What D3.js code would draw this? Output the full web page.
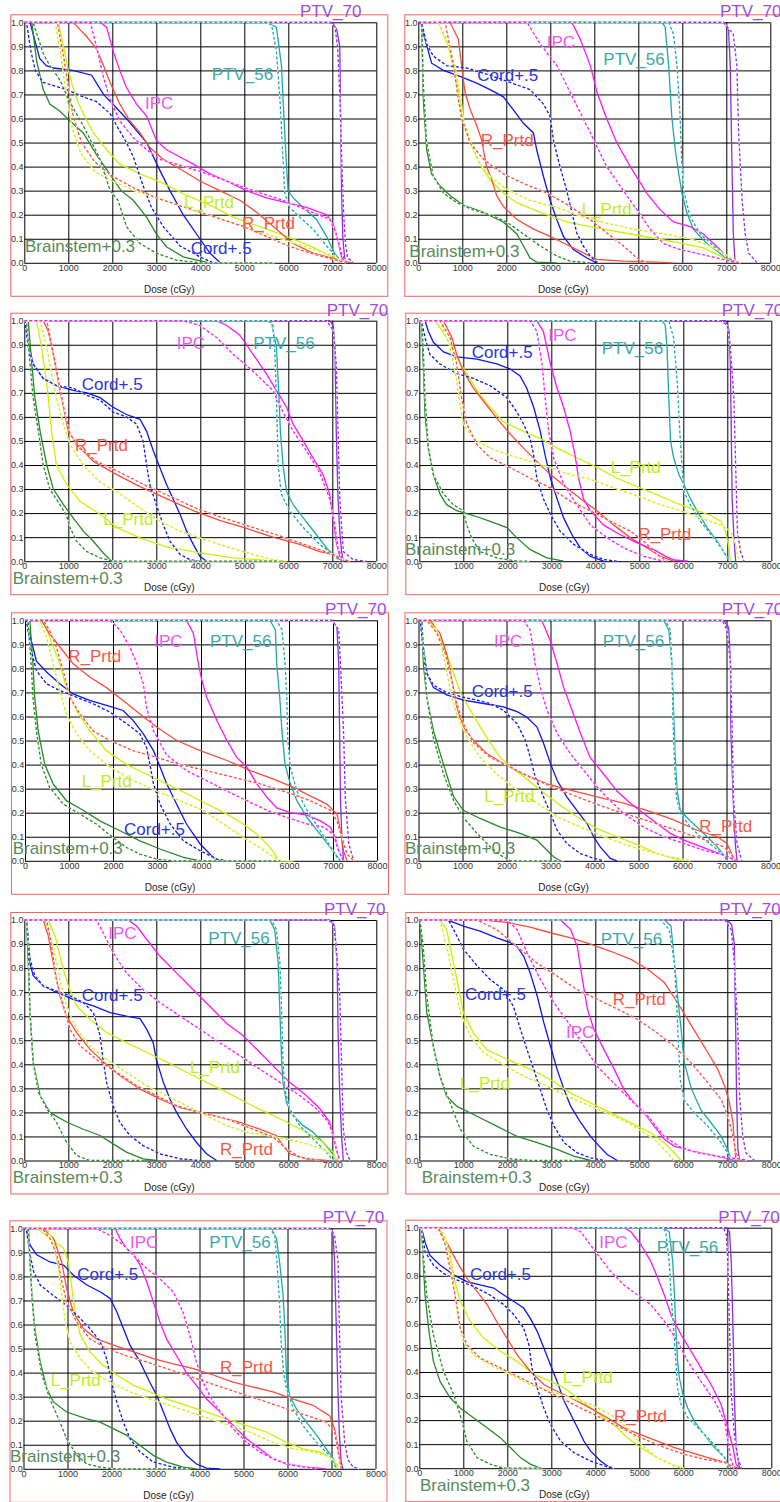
<!DOCTYPE html>
<html>
<head>
<meta charset="utf-8">
<script src="https://cdn.jsdelivr.net/npm/d3@7"></script>
<style>
  body { margin: 0; background: #fff; }
</style>
</head>
<body>
<div id="chart"></div>
<script>
// structures, in drawing order of the legend text
const structures = ["PTV_70", "PTV_56", "IPC", "Cord+.5", "L_Prtd", "R_Prtd", "Brainstem+0.3"]
const xTicks = [0, 1000, 2000, 3000, 4000, 5000, 6000, 7000, 8000]
const yTicks = [0, 0.1, 0.2, 0.3, 0.4, 0.5, 0.6, 0.7, 0.8, 0.9, 1.0]

// each curve: dose,volume pairs (flat), the curve starts at (0,1)
const ptv70Solid = [
  [7000,1, 7100,.97, 7170,.9, 7190,.6, 7210,.3, 7240,.1, 7280,.02, 7320,0],
  [6940,1, 7050,.97, 7090,.82, 7130,.40, 7160,.12, 7200,0],
  [6940,1, 7020,.98, 7060,.89, 7090,.54, 7130,.26, 7170,.125, 7210,.04, 7250,0],
  [6960,1, 7040,.96, 7070,.82, 7090,.54, 7110,.26, 7150,.1, 7190,0],
  [6980,1, 7090,.97, 7130,.82, 7150,.54, 7170,.26, 7200,.097, 7240,0],
  [6940,1, 7050,.97, 7090,.82, 7100,.54, 7150,.26, 7200,.07, 7240,0],
  [6940,1, 7050,.975, 7110,.82, 7130,.545, 7170,.27, 7210,.104, 7250,0],
  [7000,1, 7100,.98, 7160,.9, 7190,.55, 7210,.27, 7240,.05, 7280,0],
  [6960,1, 7030,.986, 7070,.86, 7110,.58, 7150,.30, 7180,.14, 7220,.028, 7260,0],
  [6970,1, 7050,.983, 7090,.86, 7130,.58, 7160,.31, 7200,.086, 7280,0]
]
const ptv70Dashed = [
  [6950,1, 7060,.98, 7120,.9, 7170,.7, 7220,.4, 7260,.2, 7300,.08, 7350,.02, 7480,0],
  [6940,1, 7160,.95, 7240,.82, 7280,.54, 7360,.26, 7430,.12, 7510,.04, 7700,0],
  [6870,1, 7020,.96, 7090,.82, 7130,.54, 7170,.26, 7250,.04, 7470,.007, 7770,0],
  [6850,1, 7000,.98, 7070,.89, 7150,.68, 7190,.40, 7230,.125, 7300,.04, 7380,0],
  [6980,1, 7130,.96, 7170,.82, 7240,.54, 7280,.26, 7360,.07, 7470,0],
  [6900,1, 7010,.96, 7090,.82, 7130,.54, 7160,.26, 7240,.07, 7350,0],
  [6870,1, 7020,.99, 7090,.89, 7170,.685, 7210,.41, 7250,.13, 7320,.035, 7400,0],
  [6940,1, 7090,.96, 7160,.82, 7240,.545, 7280,.27, 7350,.10, 7430,.03, 7620,0],
  [6960,1, 7070,.97, 7150,.86, 7180,.58, 7220,.30, 7300,.11, 7370,.04, 7490,.007, 7640,0],
  [6910,1, 6980,.97, 7010,.86, 7050,.58, 7090,.31, 7160,.14, 7240,.044, 7320,0]
]
const ptv56Solid = [
  [5500,1, 5730,.98, 5845,.82, 5880,.68, 5920,.54, 5960,.40, 5995,.3, 6110,.27, 6340,.23, 6640,.18, 6870,.11, 7020,.05, 7170,.01, 7320,0],
  [5540,1, 5610,.98, 5690,.82, 5760,.61, 5840,.47, 5920,.37, 5990,.29, 6100,.21, 6250,.14, 6560,.08, 6860,.04, 7010,.014, 7170,0],
  [5500,1, 5620,.99, 5730,.89, 5790,.68, 5820,.54, 5880,.40, 5960,.29, 6110,.235, 6340,.18, 6640,.11, 6870,.055, 7020,.028, 7170,.007, 7250,0],
  [5520,1, 5590,.98, 5630,.89, 5670,.68, 5710,.50, 5780,.43, 5900,.36, 6010,.32, 6160,.26, 6310,.21, 6540,.14, 6770,.083, 6920,.04, 7000,.014, 7070,0],
  [5570,1, 5690,.96, 5720,.82, 5790,.68, 5840,.54, 5910,.40, 6030,.32, 6180,.25, 6410,.18, 6710,.11, 6940,.055, 7090,.02, 7170,0],
  [5570,1, 5690,.96, 5760,.82, 5800,.61, 5840,.40, 5880,.29, 5950,.21, 6100,.18, 6330,.14, 6560,.10, 6790,.058, 6940,.024, 7010,0],
  [5580,1, 5690,.96, 5770,.82, 5810,.61, 5850,.41, 5880,.325, 5960,.24, 6110,.187, 6340,.145, 6560,.118, 6790,.076, 6980,.035, 7090,0],
  [5570,1, 5720,.975, 5800,.82, 5870,.684, 5950,.545, 6020,.41, 6180,.30, 6400,.21, 6630,.157, 6860,.10, 7010,.046, 7090,0],
  [5630,1, 5750,.958, 5820,.86, 5900,.72, 5940,.58, 5980,.375, 6050,.305, 6200,.25, 6430,.194, 6660,.14, 6880,.083, 7050,.04, 7110,0],
  [5530,1, 5680,.983, 5760,.86, 5800,.72, 5830,.58, 5870,.445, 5910,.376, 5990,.307, 6100,.25, 6250,.196, 6480,.14, 6710,.086, 6940,.044, 7010,.017, 7090,0]
]
const ptv56Dashed = [
  [5500,1, 5620,.99, 5730,.88, 5810,.68, 5880,.43, 5920,.29, 6030,.23, 6260,.19, 6560,.14, 6870,.07, 7100,.025, 7320,0],
  [5690,1, 5800,.95, 5880,.82, 5950,.61, 5990,.40, 6030,.3, 6180,.19, 6410,.12, 6710,.07, 7010,.03, 7170,0],
  [5580,1, 5650,.98, 5690,.89, 5730,.68, 5770,.40, 5840,.28, 6030,.21, 6340,.14, 6710,.07, 7020,.028, 7170,0],
  [5670,1, 5780,.93, 5860,.75, 5920,.54, 5970,.40, 6010,.29, 6160,.235, 6390,.166, 6690,.097, 6920,.04, 7000,.014, 7070,0],
  [5720,1, 5840,.96, 5910,.82, 5950,.68, 5970,.51, 6030,.39, 6180,.29, 6410,.21, 6710,.125, 7010,.04, 7090,.014, 7170,0],
  [5610,1, 5720,.96, 5760,.82, 5780,.61, 5820,.40, 5860,.266, 5950,.197, 6180,.14, 6410,.10, 6710,.058, 6940,.024, 7010,0],
  [5620,1, 5730,.96, 5810,.82, 5850,.61, 5880,.41, 5920,.297, 6030,.215, 6260,.145, 6560,.09, 6870,.035, 7020,0],
  [5490,1, 5680,.96, 5800,.82, 5860,.61, 5890,.475, 5930,.337, 6020,.25, 6250,.198, 6560,.143, 6860,.074, 7010,.032, 7090,0],
  [5600,1, 5710,.97, 5760,.86, 5810,.72, 5860,.514, 5910,.40, 5980,.333, 6130,.25, 6350,.18, 6660,.11, 6960,.055, 7110,0],
  [5530,1, 5600,.983, 5680,.86, 5720,.72, 5780,.58, 5830,.445, 5870,.334, 5950,.265, 6100,.21, 6330,.168, 6630,.113, 6940,.044, 7010,0]
]
const ipcSolid = [
  [1720,1, 1870,.98, 2020,.88, 2170,.8, 2320,.73, 2550,.66, 2780,.61, 3000,.51, 3230,.47, 3540,.44, 3840,.41, 4220,.37, 4600,.34, 5050,.3, 5500,.27, 5960,.25, 6410,.23, 6870,.2, 7020,.16, 7130,.09, 7210,.025, 7290,0],
  [3490,1, 3680,.93, 3910,.82, 4060,.71, 4280,.6, 4510,.5, 4820,.4, 5190,.29, 5500,.22, 5800,.17, 6180,.15, 6480,.12, 6710,.08, 6940,.04, 7090,.014, 7240,0],
  [4370,1, 4600,.98, 4900,.94, 5200,.86, 5500,.78, 5730,.71, 5960,.64, 6110,.57, 6340,.50, 6560,.43, 6790,.36, 6940,.28, 7020,.18, 7090,.08, 7170,.02, 7250,0],
  [2670,1, 2820,.956, 2980,.82, 3130,.72, 3280,.64, 3430,.54, 3540,.44, 3620,.345, 3730,.26, 3890,.21, 4190,.15, 4570,.11, 4950,.076, 5330,.048, 5600,.02, 5800,.005, 6100,0],
  [3670,1, 3830,.944, 3940,.82, 4020,.75, 4130,.68, 4360,.583, 4590,.50, 4810,.43, 5040,.39, 5270,.32, 5500,.264, 5720,.22, 6030,.2, 6410,.19, 6710,.166, 6940,.14, 7050,.097, 7130,.04, 7240,0],
  [2800,1, 2990,.917, 3150,.82, 3300,.72, 3490,.626, 3680,.53, 3900,.43, 4210,.36, 4510,.29, 4810,.24, 5120,.197, 5420,.155, 5720,.114, 6030,.086, 6330,.065, 6630,.044, 6940,.024, 7160,.005, 7240,0],
  [2360,1, 2550,.975, 2780,.92, 3080,.85, 3460,.78, 3840,.71, 4220,.64, 4600,.57, 4970,.52, 5350,.45, 5730,.38, 6030,.325, 6410,.27, 6720,.215, 6940,.16, 7020,.104, 7090,.048, 7170,0],
  [3210,1, 3440,.96, 3590,.89, 3710,.75, 3820,.63, 3970,.545, 4200,.46, 4430,.38, 4650,.295, 4880,.24, 5110,.198, 5340,.143, 5570,.088, 5790,.06, 6180,.04, 6560,.025, 6940,.011, 7160,0],
  [2080,1, 2190,.958, 2340,.917, 2500,.89, 2650,.847, 2800,.778, 2950,.694, 3100,.61, 3250,.54, 3480,.47, 3700,.40, 3930,.347, 4160,.29, 4390,.25, 4610,.208, 4840,.167, 5070,.125, 5370,.083, 5670,.042, 5970,.02, 6430,.007, 6880,0],
  [4650,1, 4810,.983, 5040,.928, 5260,.86, 5420,.79, 5570,.72, 5720,.638, 5950,.555, 6180,.486, 6400,.417, 6630,.348, 6860,.265, 7010,.168, 7130,.086, 7200,.017, 7280,0]
]
const ipcDashed = [
  [1500,1, 1640,.9, 1800,.77, 1950,.68, 2170,.59, 2480,.52, 2780,.47, 3080,.43, 3460,.41, 3990,.38, 4600,.34, 5200,.3, 5880,.26, 6410,.22, 6950,.18, 7090,.12, 7210,.04, 7320,0],
  [2470,1, 2770,.91, 3150,.82, 3530,.68, 3910,.54, 4280,.4, 4660,.3, 4970,.22, 5270,.14, 5570,.08, 5950,.055, 6560,.03, 7090,.007, 7320,0],
  [3610,1, 3990,.98, 4370,.93, 4750,.86, 5200,.79, 5650,.71, 5880,.62, 6110,.54, 6410,.46, 6710,.37, 6940,.26, 7060,.15, 7130,.055, 7250,0],
  [2520,1, 2670,.956, 2790,.82, 2860,.68, 2940,.54, 3050,.43, 3280,.32, 3580,.235, 3890,.15, 4270,.097, 4650,.055, 5100,.02, 5560,0],
  [1930,1, 2160,.96, 2380,.89, 2540,.82, 2690,.736, 2760,.64, 2920,.54, 3220,.44, 3670,.375, 4130,.333, 4590,.29, 5040,.25, 5500,.21, 5950,.18, 6410,.153, 6790,.14, 7010,.11, 7130,.04, 7240,0],
  [2390,1, 2540,.96, 2650,.82, 2770,.72, 2920,.626, 3150,.53, 3450,.446, 3750,.377, 4060,.307, 4360,.25, 4660,.197, 5120,.14, 5570,.10, 6030,.072, 6480,.044, 6940,.024, 7240,0],
  [1640,1, 1790,.947, 2020,.864, 2320,.78, 2700,.71, 3080,.657, 3540,.60, 3990,.546, 4440,.49, 4900,.436, 5350,.38, 5810,.325, 6260,.27, 6640,.215, 6910,.16, 7020,.104, 7090,.048, 7170,0],
  [1990,1, 2220,.96, 2450,.864, 2750,.753, 3060,.656, 3440,.56, 3740,.475, 4050,.39, 4430,.32, 4810,.25, 5190,.185, 5570,.10, 5950,.053, 6330,.032, 6780,.018, 7240,.007, 7470,0],
  [1660,1, 1970,.97, 2270,.93, 2570,.875, 2800,.833, 3100,.79, 3400,.736, 3630,.65, 3780,.556, 3930,.444, 4080,.36, 4310,.278, 4540,.222, 4760,.167, 5070,.11, 5370,.07, 5750,.035, 6130,.014, 6650,0],
  [3480,1, 3670,.983, 3890,.928, 4120,.873, 4350,.818, 4650,.762, 4960,.72, 5260,.68, 5570,.61, 5870,.528, 6100,.445, 6400,.362, 6710,.28, 6940,.196, 7010,.113, 7090,.03, 7160,0]
]
const cordSolid = [
  [130,1, 350,.85, 500,.82, 660,.81, 1100,.80, 1530,.78, 1800,.7, 2320,.6, 2780,.5, 3040,.4, 3310,.3, 3610,.2, 3990,.1, 4220,.04, 4450,0],
  [60,1, 114,.954, 303,.83, 569,.80, 948,.775, 1327,.747, 1630,.72, 1933,.69, 2161,.636, 2388,.58, 2616,.54, 2691,.47, 2843,.36, 2995,.26, 3146,.18, 3298,.11, 3525,.055, 3829,.02, 4056,0],
  [15,1, 90,.91, 200,.82, 430,.76, 730,.73, 1110,.71, 1420,.70, 1720,.68, 2020,.64, 2320,.61, 2630,.59, 2780,.54, 2930,.46, 3080,.39, 3230,.32, 3380,.26, 3540,.195, 3690,.125, 3840,.07, 3990,.02, 4140,0],
  [130,1, 205,.956, 320,.91, 550,.87, 850,.85, 1310,.84, 1760,.82, 2060,.80, 2290,.77, 2440,.72, 2600,.64, 2750,.54, 2860,.44, 2980,.345, 3130,.26, 3280,.18, 3470,.11, 3660,.055, 3890,.02, 4190,0],
  [30,1, 140,.917, 260,.83, 490,.785, 790,.736, 1090,.694, 1470,.667, 1850,.646, 2230,.625, 2460,.583, 2690,.528, 2920,.458, 3070,.39, 3220,.32, 3370,.264, 3520,.208, 3670,.153, 3830,.11, 3980,.07, 4130,.042, 4280,.014, 4430,0],
  [40,1, 110,.89, 190,.78, 340,.72, 640,.69, 1020,.668, 1480,.654, 1930,.64, 2240,.62, 2460,.598, 2690,.557, 2840,.49, 3000,.404, 3150,.335, 3370,.266, 3600,.21, 3830,.155, 3980,.10, 4130,.058, 4360,.01, 4510,0],
  [50,1, 130,.82, 200,.77, 430,.726, 730,.70, 1110,.67, 1570,.643, 1950,.615, 2320,.60, 2630,.59, 2780,.546, 2930,.49, 3000,.42, 3160,.325, 3310,.256, 3460,.20, 3690,.13, 3910,.076, 4140,.028, 4370,0],
  [620,1, 780,.99, 1000,.975, 1380,.954, 1760,.926, 2070,.906, 2220,.89, 2370,.85, 2520,.78, 2680,.684, 2830,.573, 2980,.476, 3130,.38, 3290,.295, 3440,.226, 3670,.157, 3890,.10, 4050,.067, 4270,.025, 4500,0],
  [60,1, 150,.93, 300,.89, 600,.86, 910,.847, 1130,.806, 1440,.764, 1740,.736, 1970,.708, 2120,.653, 2270,.583, 2420,.514, 2650,.444, 2870,.36, 3030,.305, 3180,.236, 3330,.167, 3480,.11, 3700,.056, 3930,.02, 4160,.003, 4460,0],
  [50,1, 130,.94, 240,.886, 470,.845, 780,.804, 1080,.776, 1380,.762, 1690,.749, 1920,.72, 2150,.693, 2370,.666, 2520,.624, 2680,.569, 2830,.50, 2980,.43, 3130,.362, 3290,.28, 3440,.224, 3590,.17, 3740,.113, 3890,.072, 4120,.03, 4350,0]
]
const cordDashed = [
  [50,1, 150,.88, 250,.8, 430,.75, 960,.72, 1340,.69, 1640,.67, 1950,.62, 2100,.57, 2320,.5, 2480,.44, 2700,.32, 2890,.23, 3160,.15, 3540,.07, 3990,.025, 4290,0],
  [76,1, 190,.91, 340,.86, 640,.82, 1100,.81, 1630,.78, 2085,.75, 2540,.72, 2843,.66, 2995,.61, 3070,.51, 3220,.40, 3374,.30, 3490,.21, 3600,.125, 3750,.07, 3900,.03, 4020,.007, 4090,0],
  [15,1, 90,.89, 200,.82, 430,.76, 730,.73, 1110,.72, 1420,.69, 1720,.67, 2020,.62, 2320,.6, 2550,.57, 2700,.50, 2780,.40, 2850,.32, 3000,.235, 3160,.15, 3310,.083, 3540,.028, 3760,.007, 3990,0],
  [50,1, 130,.93, 240,.86, 470,.82, 850,.78, 1230,.76, 1610,.73, 1990,.68, 2220,.62, 2370,.57, 2520,.51, 2600,.44, 2670,.345, 2820,.26, 2980,.195, 3200,.125, 3510,.07, 3890,.028, 4190,.007, 4490,0],
  [30,1, 140,.875, 260,.79, 490,.736, 790,.708, 1170,.68, 1550,.653, 1930,.618, 2310,.57, 2610,.528, 2760,.472, 2840,.40, 2920,.32, 3070,.236, 3300,.153, 3600,.083, 3980,.042, 4360,.007, 4590,0],
  [40,1, 110,.875, 190,.78, 340,.73, 640,.70, 1020,.68, 1330,.668, 1630,.654, 1930,.626, 2240,.57, 2430,.50, 2540,.43, 2650,.35, 2840,.266, 3000,.197, 3150,.127, 3370,.072, 3680,.03, 3980,.01, 4210,0],
  [50,1, 130,.837, 240,.768, 430,.726, 730,.705, 1040,.685, 1340,.657, 1570,.615, 1720,.52, 1790,.42, 1870,.325, 2020,.228, 2170,.159, 2400,.104, 2700,.062, 3080,.028, 3540,.007, 3990,0],
  [660,1, 780,.96, 1000,.88, 1310,.81, 1610,.753, 1920,.71, 2140,.64, 2300,.545, 2450,.46, 2600,.38, 2750,.295, 2900,.212, 3060,.143, 3290,.074, 3590,.032, 3890,.011, 4200,0],
  [60,1, 150,.89, 230,.82, 380,.764, 680,.72, 980,.68, 1290,.625, 1510,.583, 1740,.53, 1890,.458, 2000,.36, 2120,.278, 2270,.194, 2420,.125, 2650,.07, 2950,.028, 3400,.007, 3780,0],
  [50,1, 130,.90, 320,.845, 550,.81, 850,.783, 1230,.756, 1610,.72, 1920,.68, 2150,.638, 2370,.583, 2490,.514, 2560,.417, 2680,.334, 2830,.25, 2980,.182, 3210,.113, 3510,.065, 3890,.03, 4200,.01, 4430,0]
]
const lPrtdSolid = [
  [770,1, 890,.9, 1000,.8, 1150,.7, 1340,.62, 1570,.54, 1870,.47, 2170,.41, 2630,.37, 3160,.33, 3690,.28, 4220,.24, 4750,.19, 5350,.15, 5960,.11, 6490,.07, 6940,.03, 7250,.005, 7320,0],
  [455,1, 680,.9, 830,.79, 950,.68, 990,.61, 1175,.5, 1400,.41, 1630,.345, 1930,.29, 2240,.25, 2770,.21, 3370,.17, 3900,.15, 4660,.125, 5420,.10, 6030,.08, 6480,.062, 6790,.035, 7010,.014, 7240,0],
  [280,1, 390,.89, 470,.79, 545,.68, 620,.54, 730,.40, 960,.32, 1260,.25, 1720,.195, 2100,.14, 2630,.097, 3230,.06, 3990,.035, 4750,.014, 5500,.003, 5880,0],
  [360,1, 620,.93, 850,.845, 1080,.78, 1310,.71, 1610,.64, 1910,.58, 2370,.54, 2750,.51, 3130,.47, 3580,.43, 4040,.39, 4490,.345, 4950,.31, 5400,.277, 5860,.24, 6320,.21, 6620,.19, 6850,.166, 6960,.125, 7040,.055, 7070,0],
  [410,1, 560,.93, 790,.82, 940,.72, 1170,.625, 1470,.54, 1850,.458, 2310,.40, 2760,.36, 3220,.32, 3670,.28, 4130,.236, 4590,.194, 4960,.153, 5270,.11, 5500,.07, 5650,.035, 5760,0],
  [230,1, 490,.93, 640,.86, 800,.78, 950,.70, 1180,.626, 1400,.557, 1630,.49, 1860,.43, 2090,.39, 2390,.35, 2770,.294, 3150,.24, 3600,.183, 4060,.134, 4510,.10, 5000,.065, 5420,.03, 5800,.01, 6030,0],
  [545,1, 700,.934, 850,.82, 1000,.726, 1190,.643, 1490,.587, 1870,.532, 2320,.49, 2780,.45, 3230,.41, 3690,.367, 4140,.325, 4600,.284, 5050,.24, 5500,.20, 5960,.16, 6410,.118, 6790,.076, 7020,.035, 7090,0],
  [470,1, 620,.96, 780,.82, 930,.684, 1000,.615, 1230,.53, 1540,.46, 2000,.42, 2520,.38, 2980,.337, 3440,.28, 3890,.24, 4350,.198, 4810,.157, 5260,.115, 5570,.074, 5790,.032, 5950,0],
  [300,1, 600,.958, 910,.917, 1020,.86, 1100,.75, 1170,.653, 1290,.556, 1510,.486, 1810,.43, 2120,.39, 2500,.347, 2870,.32, 3250,.29, 3700,.264, 4160,.236, 4610,.208, 5070,.18, 5520,.153, 5970,.11, 6350,.083, 6730,.07, 6960,.049, 7070,.028, 7150,0],
  [400,1, 590,.956, 700,.886, 810,.776, 930,.693, 1160,.61, 1460,.541, 1840,.486, 2220,.445, 2600,.39, 2980,.362, 3290,.334, 3590,.293, 3890,.25, 4200,.21, 4500,.168, 4730,.127, 5030,.086, 5410,.044, 5720,.017, 5950,0]
]
const lPrtdDashed = [
  [700,1, 820,.88, 950,.7, 1100,.55, 1300,.45, 1600,.38, 2000,.34, 2500,.3, 3000,.27, 3500,.24, 4000,.21, 4500,.18, 5000,.15, 5500,.12, 6000,.09, 6500,.06, 7000,.03, 7300,0],
  [455,1, 640,.93, 830,.82, 950,.71, 1020,.6, 1175,.51, 1400,.41, 1630,.36, 2010,.305, 2540,.26, 3150,.23, 3750,.19, 4280,.165, 4890,.14, 5570,.12, 6180,.10, 6630,.07, 6940,.04, 7160,.014, 7320,0],
  [360,1, 510,.89, 620,.78, 730,.68, 890,.57, 1040,.485, 1340,.40, 1720,.33, 2170,.28, 2630,.22, 3080,.166, 3540,.125, 3990,.097, 4600,.06, 5200,.028, 5650,.007, 5960,0],
  [470,1, 700,.89, 850,.75, 930,.65, 1000,.57, 1230,.51, 1610,.47, 2060,.44, 2520,.415, 2980,.39, 3430,.36, 3890,.34, 4340,.31, 4870,.277, 5400,.24, 5940,.21, 6390,.18, 6850,.15, 7070,.125, 7190,.07, 7260,0],
  [330,1, 490,.93, 640,.82, 790,.708, 940,.61, 1170,.528, 1470,.458, 1930,.39, 2460,.333, 2990,.29, 3520,.25, 4050,.21, 4510,.153, 4960,.097, 5340,.055, 5720,.007, 5800,0, 6100,0],
  [340,1, 490,.917, 610,.82, 720,.71, 870,.61, 1100,.515, 1400,.43, 1780,.36, 2240,.294, 2690,.24, 3150,.183, 3680,.14, 4210,.10, 4740,.065, 5270,.037, 5720,.017, 6180,0],
  [470,1, 660,.89, 810,.75, 960,.643, 1190,.546, 1490,.477, 1870,.42, 2320,.367, 2780,.31, 3230,.27, 3690,.228, 4140,.187, 4600,.145, 5050,.118, 5500,.104, 5960,.09, 6410,.069, 6790,.048, 7020,.02, 7170,0],
  [470,1, 620,.89, 780,.753, 930,.615, 1160,.517, 1460,.448, 1840,.406, 2370,.35, 2900,.31, 3360,.267, 3890,.226, 4430,.184, 4880,.143, 5340,.088, 5640,.032, 5790,0],
  [530,1, 680,.944, 790,.833, 870,.72, 950,.61, 1060,.528, 1290,.458, 1590,.40, 1970,.36, 2420,.32, 2870,.29, 3330,.264, 3780,.236, 4230,.208, 4690,.18, 5140,.153, 5670,.11, 6130,.083, 6580,.07, 6960,.049, 7110,.028, 7180,0],
  [470,1, 620,.94, 740,.83, 810,.72, 890,.61, 1000,.528, 1230,.472, 1610,.43, 2070,.39, 2520,.348, 2980,.32, 3440,.293, 3890,.265, 4350,.224, 4730,.168, 5030,.10, 5410,.044, 5720,.017, 6020,0]
]
const rPrtdSolid = [
  [1110,1, 1420,.94, 1640,.89, 1800,.82, 1950,.75, 2170,.66, 2400,.59, 2630,.54, 2850,.48, 3160,.43, 3540,.39, 3990,.34, 4440,.3, 4900,.26, 5280,.21, 5730,.14, 6110,.08, 6560,.04, 7020,.018, 7320,.004, 7470,0],
  [720,1, 910,.93, 985,.82, 1060,.71, 1175,.64, 1330,.57, 1440,.51, 1550,.40, 1670,.345, 1780,.28, 1930,.235, 2240,.18, 2620,.14, 2995,.11, 3370,.076, 3750,.041, 4060,.014, 4660,.007, 5420,.003, 5800,0],
  [430,1, 545,.956, 660,.86, 770,.75, 890,.64, 1000,.54, 1190,.485, 1570,.415, 2100,.36, 2630,.31, 3230,.26, 3840,.21, 4440,.17, 5050,.136, 5650,.10, 6260,.07, 6710,.04, 7020,.028, 7250,.007, 7400,0],
  [550,1, 740,.93, 850,.86, 1000,.79, 1230,.72, 1460,.665, 1760,.595, 2060,.53, 2370,.47, 2670,.415, 2980,.36, 3350,.305, 3730,.25, 4040,.21, 4420,.15, 4800,.097, 5180,.055, 5480,.02, 5780,0],
  [370,1, 560,.944, 790,.89, 1090,.82, 1470,.764, 1850,.72, 2230,.667, 2610,.61, 2990,.556, 3450,.50, 3980,.458, 4590,.417, 5120,.375, 5650,.34, 6100,.305, 6480,.27, 6860,.236, 7090,.194, 7170,.125, 7240,.04, 7320,0],
  [265,1, 490,.945, 640,.86, 760,.75, 870,.64, 1020,.557, 1250,.50, 1550,.446, 1930,.404, 2390,.36, 2920,.32, 3450,.294, 4060,.266, 4660,.24, 5270,.204, 5800,.17, 6330,.127, 6790,.10, 7010,.072, 7130,.024, 7200,0],
  [430,1, 545,.934, 660,.82, 810,.685, 960,.60, 1190,.532, 1490,.463, 1800,.41, 2170,.353, 2630,.297, 3080,.256, 3540,.22, 3990,.20, 4440,.18, 4900,.159, 5350,.13, 5730,.104, 5880,.062, 6030,.028, 6410,.007, 6870,0],
  [1460,1, 1990,.99, 2520,.97, 2980,.947, 3440,.926, 3890,.9, 4350,.87, 4810,.836, 5190,.795, 5570,.74, 5870,.656, 6100,.587, 6330,.517, 6560,.448, 6780,.38, 6940,.31, 7050,.24, 7130,.157, 7160,.074, 7200,0],
  [450,1, 680,.958, 870,.86, 980,.75, 1130,.653, 1360,.583, 1660,.54, 2040,.514, 2500,.486, 2950,.458, 3400,.436, 3860,.417, 4310,.39, 4760,.36, 5220,.34, 5670,.32, 6130,.29, 6580,.264, 6960,.22, 7070,.167, 7150,.083, 7220,0],
  [430,1, 620,.94, 850,.86, 1080,.79, 1310,.735, 1540,.68, 1760,.61, 1990,.541, 2220,.472, 2520,.403, 2830,.348, 3130,.32, 3510,.286, 3890,.25, 4270,.21, 4650,.168, 5030,.14, 5410,.113, 5800,.086, 6180,.065, 6560,.044, 6940,.024, 7090,.01, 7240,0]
]
const rPrtdDashed = [
  [750,1, 900,.85, 1100,.62, 1300,.5, 1600,.42, 2000,.36, 2500,.31, 3000,.27, 3500,.24, 4000,.21, 4500,.18, 5000,.15, 5500,.11, 6000,.07, 6500,.04, 7000,.015, 7300,0],
  [610,1, 800,.82, 910,.68, 985,.6, 1175,.5, 1480,.43, 1930,.37, 2390,.33, 2920,.29, 3450,.235, 3900,.18, 4280,.125, 4660,.07, 4970,.02, 5190,0],
  [510,1, 580,.94, 700,.83, 810,.72, 930,.61, 1040,.53, 1260,.47, 1640,.415, 2170,.37, 2700,.32, 3310,.27, 3910,.22, 4520,.18, 5120,.145, 5730,.11, 6260,.076, 6710,.048, 7020,.028, 7250,.007, 7400,0],
  [470,1, 700,.93, 850,.82, 960,.68, 1080,.57, 1310,.485, 1610,.43, 2060,.39, 2520,.345, 2980,.305, 3430,.25, 3890,.21, 4340,.166, 4800,.125, 5180,.07, 5400,.028, 5630,0],
  [410,1, 560,.958, 710,.89, 870,.79, 1020,.68, 1250,.61, 1550,.54, 1930,.50, 2460,.458, 2990,.43, 3520,.40, 4130,.375, 4740,.347, 5340,.32, 5950,.285, 6480,.25, 6940,.21, 7090,.166, 7200,.097, 7320,.028, 7470,0],
  [190,1, 420,.945, 610,.86, 760,.75, 870,.654, 1020,.57, 1250,.49, 1630,.43, 2090,.39, 2620,.34, 3220,.294, 3830,.25, 4440,.21, 5040,.176, 5650,.14, 6180,.107, 6630,.08, 6940,.058, 7090,.03, 7200,0],
  [510,1, 620,.89, 730,.75, 890,.643, 1040,.546, 1270,.477, 1640,.42, 2100,.367, 2560,.31, 3000,.27, 3460,.228, 3990,.20, 4600,.173, 5200,.13, 5660,.097, 5960,.048, 6260,.014, 6720,0],
  [1310,1, 1760,.96, 2220,.89, 2680,.82, 3130,.767, 3590,.71, 4050,.67, 4500,.63, 4960,.587, 5410,.53, 5790,.475, 6180,.406, 6560,.323, 6860,.254, 7010,.184, 7130,.10, 7200,.032, 7280,0],
  [420,1, 600,.958, 760,.89, 870,.778, 980,.694, 1210,.61, 1510,.54, 1890,.5, 2340,.47, 2800,.444, 3250,.417, 3700,.39, 4160,.36, 4610,.333, 5070,.305, 5520,.278, 5970,.25, 6430,.222, 6880,.194, 7070,.153, 7150,.07, 7220,0],
  [430,1, 590,.93, 740,.79, 850,.68, 930,.583, 1080,.514, 1380,.458, 1840,.417, 2300,.376, 2750,.334, 3210,.293, 3670,.25, 4120,.21, 4580,.168, 5030,.127, 5570,.086, 6020,.058, 6480,.037, 6940,.024, 7160,0]
]
const brainSolid = [
  [170,1, 280,.84, 430,.72, 580,.66, 810,.63, 1040,.59, 1340,.54, 1640,.45, 1900,.38, 2200,.3, 2475,.26, 2780,.19, 3000,.12, 3230,.067, 3610,.025, 4200,0],
  [76,1, 114,.68, 190,.47, 300,.37, 490,.32, 720,.28, 1020,.24, 1480,.21, 1930,.17, 2240,.12, 2390,.07, 2540,.02, 2690,.003, 3150,0],
  [90,1, 170,.82, 240,.68, 360,.54, 510,.40, 660,.30, 890,.235, 1110,.18, 1340,.125, 1570,.083, 1790,.035, 1980,0],
  [50,1, 90,.82, 130,.61, 205,.47, 320,.36, 470,.28, 620,.235, 850,.21, 1230,.19, 1610,.166, 1990,.14, 2220,.097, 2520,.048, 2900,.014, 3280,0],
  [110,1, 180,.82, 220,.68, 300,.54, 450,.40, 640,.32, 940,.25, 1320,.21, 1700,.166, 2160,.125, 2610,.083, 3070,.049, 3600,.014, 3980,0],
  [76,1, 110,.82, 190,.68, 340,.54, 570,.40, 800,.266, 1020,.21, 1400,.176, 1860,.14, 2310,.114, 2690,.086, 2920,.044, 3070,.017, 3220,0],
  [50,1, 90,.82, 130,.615, 200,.41, 360,.27, 580,.2, 960,.16, 1340,.13, 1720,.104, 2020,.069, 2320,.035, 2700,.007, 3000,0],
  [15,1, 90,.82, 170,.615, 320,.475, 470,.35, 620,.268, 850,.226, 1310,.184, 1760,.143, 2220,.10, 2680,.074, 3130,.046, 3510,.018, 3890,0],
  [110,1, 150,.86, 190,.72, 260,.58, 380,.444, 530,.333, 680,.278, 980,.236, 1440,.208, 1740,.194, 2040,.167, 2340,.14, 2650,.097, 2950,.056, 3250,.028, 3630,.007, 3930,0],
  [50,1, 90,.86, 130,.72, 210,.583, 320,.445, 470,.362, 700,.293, 930,.25, 1230,.21, 1540,.168, 1840,.127, 2070,.086, 2300,.044, 2520,.017, 2750,0]
]
const brainDashed = [
  [200,1, 430,.87, 580,.82, 810,.76, 1000,.68, 1340,.57, 1700,.44, 1950,.3, 2130,.26, 2325,.15, 2630,.08, 3000,.04, 3460,.011, 4000,0, 5700,0],
  [76,1, 114,.75, 190,.5, 340,.36, 570,.29, 870,.25, 1250,.22, 1630,.2, 2010,.17, 2390,.12, 2770,.07, 3150,.028, 3450,.007, 3900,0],
  [50,1, 130,.82, 200,.68, 320,.54, 430,.40, 580,.30, 810,.235, 960,.19, 1040,.14, 1190,.083, 1420,.04, 1720,.014, 2020,0, 5800,0],
  [50,1, 90,.89, 130,.68, 205,.47, 320,.36, 550,.28, 770,.235, 1000,.21, 1080,.15, 1190,.097, 1380,.04, 1760,.014, 2220,0, 2500,0],
  [70,1, 140,.82, 180,.68, 260,.54, 370,.40, 560,.305, 870,.236, 1250,.194, 1620,.153, 2000,.097, 2310,.055, 2610,.028, 2990,.007, 3370,0, 5800,0],
  [76,1, 110,.89, 190,.68, 340,.51, 570,.36, 800,.25, 1020,.18, 1330,.114, 1630,.058, 1860,.024, 2090,0, 3300,0],
  [50,1, 90,.89, 130,.615, 200,.41, 320,.284, 510,.215, 730,.16, 960,.076, 1190,.021, 1490,0, 2700,0],
  [15,1, 90,.89, 170,.684, 320,.475, 470,.35, 700,.24, 930,.13, 1230,.06, 1610,.025, 2070,.007, 2520,0, 3600,0],
  [110,1, 140,.89, 190,.72, 260,.556, 420,.39, 600,.29, 830,.194, 980,.125, 1210,.056, 1440,.02, 1740,.007, 2040,0, 3800,0],
  [50,1, 90,.887, 170,.72, 320,.555, 550,.403, 780,.307, 970,.196, 1080,.113, 1310,.044, 1610,.017, 1920,0, 2800,0]
]

// label anchors per panel, px from the plot's top-left: PTV_70, PTV_56, IPC, Cord, L, R, Brainstem
const labelPos = [
  [[275.7,-5],[187.4,57.7],[120.7,86.7],[166.4,231.7],[159.7,186],[217.7,206.7],[0.7,229.7]],
  [[301.7,-5],[185,42.7],[128.4,26],[59,58.7],[163.4,192.7],[62.4,123.4],[-9,234.4]],
  [[302.4,-4.5],[229,28],[152.4,28],[57.4,69],[79,204],[50.7,130.6],[-11.6,263.3]],
  [[302.4,-4.5],[182.4,33],[129,20],[52.4,37.3],[191.4,152.3],[219,219],[-14.3,234.6]],
  [[300,-5],[185,26.7],[129.3,26.7],[99,215],[56.7,166.7],[43.3,41.7],[-12.3,234]],
  [[303.2,-5],[184.2,26.7],[75.5,26.7],[53.2,76.7],[65.8,181.7],[280.8,211.7],[-13.5,234]],
  [[299.7,-5.5],[184,24.3],[84,19.3],[57.4,81],[165.7,152.7],[195.7,235],[-11.6,262.7]],
  [[300,-5.5],[181.4,25.3],[146.7,117.7],[45.7,80],[40.7,168.7],[193.4,85],[2.4,262.7]],
  [[299.2,-5],[185.8,19.4],[106.5,19.4],[53.8,51.7],[27.2,157.4],[196.5,145],[-13.5,233.4]],
  [[299,-4.5],[237.4,25.6],[180,20.6],[50.7,52.3],[143.4,155.6],[194.7,194],[0.7,263.3]]
]

// plot origins of the ten panels
const panelX = [24.3, 418.3, 24.3, 419.3, 25, 418.5, 24.3, 419.3, 23.5, 419.3]
const panelY = [22.3, 22.3, 320.7, 320.7, 620.3, 620.3, 920, 920, 1228.3, 1227.7]

const lineColors = ["#8e2cf0", "#1ea9a9", "#ff14ff", "#0b16f2", "#c6f400", "#ff4b3b", "#268a26"]
const textColors = ["#9a4de6", "#3aa9a9", "#f055f0", "#2b35e0", "#bdee22", "#ff5545", "#588a58"]

const W = 352, H = 240.5
const svg = d3.select("#chart").append("svg").attr("width", 780).attr("height", 1502)
const x = d3.scaleLinear().domain([0, 8000]).range([0, W])
const y = d3.scaleLinear().domain([0, 1]).range([H, 0])
const line = d3.line().x(d => x(d[0])).y(d => y(d[1]))

const toPoints = flat => {
  let pts = [[0, 1]]
  for (let i = 0; i < flat.length; i += 2) pts.push([flat[i], flat[i + 1]])
  return pts
}

// structure index -> [solid, dashed]; draw order puts IPC on top
const series = [
  [0, ptv70Solid, ptv70Dashed], [1, ptv56Solid, ptv56Dashed], [3, cordSolid, cordDashed],
  [4, lPrtdSolid, lPrtdDashed], [5, rPrtdSolid, rPrtdDashed], [6, brainSolid, brainDashed],
  [2, ipcSolid, ipcDashed]
]

for (let p = 0; p < 10; p++) {
  const g = svg.append("g").attr("transform", `translate(${panelX[p]},${panelY[p]})`)

  g.append("rect").attr("x", -13.5).attr("y", -7.5).attr("width", 377).attr("height", 281.5)
    .attr("fill", "none").attr("stroke", "#f46262").attr("stroke-width", 1)

  // grid and tick labels
  const gx = g.append("g").attr("transform", `translate(0,${H})`)
    .call(d3.axisBottom(x).tickValues(xTicks).tickSize(-H).tickPadding(1.5).tickFormat(d3.format("d")))
  const gy = g.append("g")
    .call(d3.axisLeft(y).tickValues(yTicks).tickSize(-W).tickPadding(0.8).tickFormat(d3.format(".1f")))
  for (const ax of [gx, gy]) {
    ax.select(".domain").remove()
    ax.selectAll(".tick line").attr("stroke", "#000").attr("stroke-width", 1)
    ax.selectAll(".tick text").attr("fill", "#333")
      .style("font-family", "'Liberation Sans Narrow','Arial Narrow','Liberation Sans',Arial,sans-serif")
      .style("font-size", "9px")
  }

  g.append("text").attr("x", 145).attr("y", H + 30).attr("text-anchor", "middle")
    .attr("fill", "#222").style("font-family", "'Liberation Sans',Arial,sans-serif")
    .style("font-size", "10px").text("Dose (cGy)")

  // solid curves
  series.forEach(([k, solid]) => {
    g.append("path").attr("d", line(toPoints(solid[p]))).attr("fill", "none")
      .attr("stroke", lineColors[k]).attr("stroke-width", 1.3)
  })
  // dashed curves, drawn with a white backing like the original plot
  series.forEach(([k, , dashed]) => {
    const d = line(toPoints(dashed[p]))
    g.append("path").attr("d", d).attr("fill", "none").attr("stroke", "#fff").attr("stroke-width", 1.2)
    g.append("path").attr("d", d).attr("fill", "none").attr("stroke", lineColors[k])
      .attr("stroke-width", 1.3).attr("stroke-dasharray", "3,2")
  })

  // structure names
  structures.forEach((name, k) => {
    const pos = labelPos[p][k]
    g.append("text").attr("x", pos[0]).attr("y", pos[1]).attr("fill", textColors[k])
      .style("font-family", "'Liberation Sans',Arial,sans-serif").style("font-size", "17px")
      .text(name)
  })
}
</script>
</body>
</html>
